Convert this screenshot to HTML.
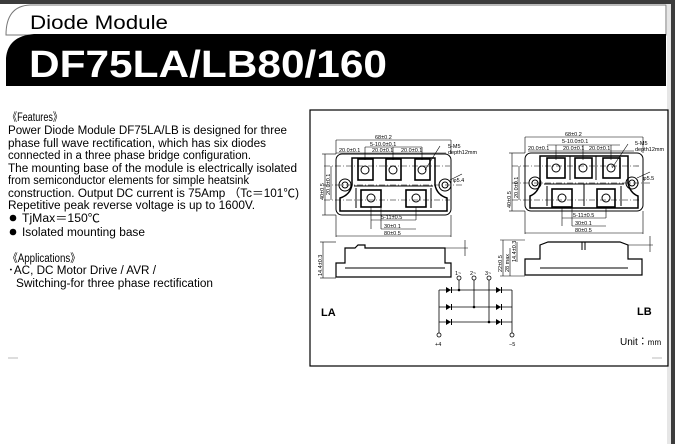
<!DOCTYPE html>
<html><head><meta charset="utf-8"><style>
html,body{margin:0;padding:0;background:#fff}
svg{display:block}
text{font-family:"Liberation Sans","Noto Sans CJK JP",sans-serif}
</style></head><body>
<svg width="675" height="444" viewBox="0 0 675 444" xmlns="http://www.w3.org/2000/svg">
<rect x="0" y="0" width="675" height="444" fill="#fff"/>
<rect x="0" y="0" width="675" height="4" fill="#3c3c3c"/>
<rect x="671" y="0" width="4" height="444" fill="#3c3c3c"/>
<rect x="667" y="4" width="4" height="440" fill="#e6e6e6"/>
<!-- header -->
<path d="M6,35 Q6,6 30,5 L666,5 L666,35 Z" fill="#fff" stroke="#777" stroke-width="1"/>
<path d="M6,86 L6,58 Q8,36 34,34 L666,34 L666,86 Z" fill="#000"/>
<text x="30" y="29" font-size="19" fill="#000" textLength="138" lengthAdjust="spacingAndGlyphs">Diode Module</text>
<text x="29" y="77" font-size="38" font-weight="bold" fill="#fff" textLength="358" lengthAdjust="spacingAndGlyphs">DF75LA/LB80/160</text>
<!-- body text -->
<g font-size="11.5" fill="#000">
<text x="8" y="121" textLength="54" lengthAdjust="spacingAndGlyphs">《Features》</text>
<text x="8" y="134" textLength="279" lengthAdjust="spacingAndGlyphs">Power Diode Module DF75LA/LB is designed for three</text>
<text x="8" y="147" textLength="258" lengthAdjust="spacingAndGlyphs">phase full wave rectification, which has six diodes</text>
<text x="8" y="159" textLength="243" lengthAdjust="spacingAndGlyphs">connected in a three phase bridge configuration.</text>
<text x="8" y="172" textLength="289" lengthAdjust="spacingAndGlyphs">The mounting base of the module is electrically isolated</text>
<text x="8" y="184" textLength="241" lengthAdjust="spacingAndGlyphs">from semiconductor elements for simple heatsink</text>
<text x="8" y="197" textLength="291" lengthAdjust="spacingAndGlyphs">construction. Output DC current is 75Amp （Tc＝101℃)</text>
<text x="8" y="209" textLength="247" lengthAdjust="spacingAndGlyphs">Repetitive peak reverse voltage is up to 1600V.</text>
<circle cx="13" cy="218" r="3.3"/>
<text x="22" y="222" textLength="78" lengthAdjust="spacingAndGlyphs">TjMax＝150℃</text>
<circle cx="13" cy="232" r="3.3"/>
<text x="22" y="236" textLength="123" lengthAdjust="spacingAndGlyphs">Isolated mounting base</text>
<text x="8" y="262" textLength="72" lengthAdjust="spacingAndGlyphs">《Applications》</text>
<text x="8" y="274" textLength="148" lengthAdjust="spacingAndGlyphs">･AC, DC Motor Drive / AVR /</text>
<text x="16" y="287" textLength="197" lengthAdjust="spacingAndGlyphs">Switching-for three phase rectification</text>
</g>
<line x1="8" y1="358" x2="18" y2="358" stroke="#bbb" stroke-width="1"/>
<!-- diagram box -->
<rect x="310" y="110" width="358" height="256" fill="none" stroke="#000" stroke-width="1.2"/>
<line x1="652" y1="358" x2="662" y2="358" stroke="#bbb" stroke-width="1"/>

<g fill="none" stroke="#000" stroke-width="1">
<!-- LA top view -->
<rect x="336" y="154" width="115" height="61" rx="6"/>
<path d="M352,158 L435,158 L435,185 Q437,195 447,198 L447,211 L340,211 L340,198 Q350,195 352,185 Z" stroke-width="1.5"/>
<path d="M354,186 L433,186 M356,188 L356,208 M431,188 L431,208"/>
<circle cx="345" cy="185" r="6"/><circle cx="345" cy="185" r="3"/>
<circle cx="445" cy="185" r="6"/><circle cx="445" cy="185" r="3"/>
<g stroke-width="1.6">
<rect x="358" y="159" width="15" height="21"/><rect x="386" y="159" width="15" height="21"/><rect x="415" y="159" width="15" height="21"/>
<rect x="361" y="190" width="20" height="17"/><rect x="406" y="190" width="20" height="17"/>
</g>
<circle cx="365" cy="170" r="4"/><circle cx="393" cy="170" r="4"/><circle cx="422" cy="170" r="4"/>
<circle cx="371" cy="198" r="4"/><circle cx="416" cy="198" r="4"/>
<g stroke-width="0.6" stroke-dasharray="6,2,1,2">
<line x1="324" y1="185" x2="462" y2="185"/><line x1="324" y1="166" x2="450" y2="166"/><line x1="324" y1="200" x2="450" y2="200"/>
</g>
<g stroke-width="0.6">
<line x1="336" y1="140" x2="451" y2="140"/><line x1="336" y1="140" x2="336" y2="154"/><line x1="451" y1="140" x2="451" y2="154"/>
<line x1="365" y1="147" x2="422" y2="147"/><line x1="365" y1="147" x2="365" y2="160"/><line x1="393" y1="147" x2="393" y2="160"/><line x1="422" y1="147" x2="422" y2="160"/>
<line x1="336" y1="153" x2="446" y2="153"/>
<line x1="371" y1="207" x2="371" y2="229"/><line x1="416" y1="207" x2="416" y2="220"/><line x1="381" y1="207" x2="381" y2="229"/>
<line x1="371" y1="220" x2="416" y2="220"/><line x1="381" y1="229" x2="416" y2="229"/>
<line x1="336" y1="236" x2="451" y2="236"/><line x1="336" y1="215" x2="336" y2="237"/><line x1="451" y1="215" x2="451" y2="237"/>
<line x1="325" y1="154" x2="325" y2="215"/><line x1="322" y1="154" x2="336" y2="154"/><line x1="322" y1="215" x2="336" y2="215"/>
<line x1="331" y1="166" x2="331" y2="200"/>
<line x1="425" y1="170" x2="440" y2="146"/><line x1="450" y1="180" x2="462" y2="174"/>
</g>
<!-- LA side view -->
<path d="M336,277 L336,263 L345,263 L345,248 L355,248 L358,245 L365,245 L365,248 L445,248 L445,263 L451,263 L451,277 Z" stroke-width="1.2"/>
<line x1="345" y1="268" x2="445" y2="268"/>
<line x1="323" y1="242" x2="323" y2="278" stroke-width="0.6"/><line x1="320" y1="242" x2="336" y2="242" stroke-width="0.6"/><line x1="320" y1="278" x2="336" y2="278" stroke-width="0.6"/>
<line x1="465" y1="240" x2="465" y2="256" stroke-width="0.6"/><line x1="445" y1="248" x2="468" y2="248" stroke-width="0.6"/>

<!-- LB top view -->
<rect x="525" y="153" width="118" height="58" rx="6"/>
<path d="M540,156 L628,156 L628,183 Q630,193 638,196 L638,208 L530,208 L530,196 Q538,193 540,183 Z" stroke-width="1.5"/>
<path d="M544,184 L624,184 M584,184 L584,206 M547,186 L547,206 M621,186 L621,206 M570,156 L570,180 M596,156 L596,180"/>
<circle cx="535" cy="183" r="6"/><circle cx="535" cy="183" r="3"/>
<circle cx="632" cy="183" r="6"/><circle cx="632" cy="183" r="3"/>
<g stroke-width="1.6">
<rect x="547" y="158" width="18" height="20"/><rect x="575" y="158" width="17" height="20"/><rect x="603" y="158" width="17" height="20"/>
<rect x="552" y="189" width="20" height="18"/><rect x="597" y="189" width="18" height="18"/>
</g>
<circle cx="556" cy="168" r="4"/><circle cx="583" cy="168" r="4"/><circle cx="611" cy="168" r="4"/>
<circle cx="562" cy="198" r="4"/><circle cx="606" cy="198" r="4"/>
<g stroke-width="0.6" stroke-dasharray="6,2,1,2">
<line x1="512" y1="183" x2="650" y2="183"/><line x1="512" y1="166" x2="640" y2="166"/><line x1="512" y1="200" x2="640" y2="200"/>
</g>
<g stroke-width="0.6">
<line x1="525" y1="137" x2="643" y2="137"/><line x1="525" y1="137" x2="525" y2="153"/><line x1="643" y1="137" x2="643" y2="153"/>
<line x1="547" y1="145" x2="620" y2="145"/><line x1="556" y1="145" x2="556" y2="160"/><line x1="583" y1="145" x2="583" y2="160"/><line x1="611" y1="145" x2="611" y2="160"/>
<line x1="528" y1="151" x2="634" y2="151"/>
<line x1="562" y1="207" x2="562" y2="226"/><line x1="572" y1="207" x2="572" y2="226"/><line x1="606" y1="207" x2="606" y2="218"/>
<line x1="562" y1="218" x2="606" y2="218"/><line x1="572" y1="226" x2="606" y2="226"/>
<line x1="525" y1="233" x2="643" y2="233"/><line x1="525" y1="211" x2="525" y2="234"/><line x1="643" y1="211" x2="643" y2="234"/>
<line x1="512" y1="153" x2="512" y2="211"/><line x1="509" y1="153" x2="525" y2="153"/><line x1="509" y1="211" x2="525" y2="211"/>
<line x1="519" y1="166" x2="519" y2="200"/>
<line x1="612" y1="168" x2="628" y2="144"/><line x1="637" y1="178" x2="650" y2="172"/>
</g>
<!-- LB side view -->
<path d="M525,275 L525,259 L540,259 L540,245 L548,242 L620,242 L628,245 L628,259 L642,259 L642,275 Z" stroke-width="1.2"/>
<line x1="540" y1="268" x2="628" y2="268"/>
<line x1="582" y1="242" x2="582" y2="250"/><line x1="585" y1="242" x2="585" y2="250"/>
<g stroke-width="0.6">
<line x1="503" y1="240" x2="503" y2="276"/><line x1="510" y1="248" x2="510" y2="276"/><line x1="517" y1="242" x2="517" y2="262"/>
<line x1="500" y1="240" x2="525" y2="240"/><line x1="500" y1="276" x2="525" y2="276"/>
<line x1="650" y1="236" x2="650" y2="252"/><line x1="628" y1="245" x2="653" y2="245"/>
</g>

<!-- circuit -->
<g stroke-width="0.8">
<line x1="439" y1="290" x2="439" y2="333"/><line x1="512" y1="290" x2="512" y2="333"/>
<line x1="439" y1="290" x2="512" y2="290"/><line x1="439" y1="307" x2="512" y2="307"/><line x1="439" y1="322" x2="512" y2="322"/>
<line x1="459" y1="280" x2="459" y2="290"/><line x1="474" y1="280" x2="474" y2="307"/><line x1="489" y1="280" x2="489" y2="322"/>
<circle cx="459" cy="278" r="2"/><circle cx="474" cy="278" r="2"/><circle cx="489" cy="278" r="2"/>
<circle cx="439" cy="335" r="2"/><circle cx="512" cy="335" r="2"/>
</g>
</g>
<g fill="#000">
<path d="M446,287 L446,293 L451,290 Z M496,287 L496,293 L501,290 Z"/>
<path d="M446,304 L446,310 L451,307 Z M496,304 L496,310 L501,307 Z"/>
<path d="M446,319 L446,325 L451,322 Z M496,319 L496,325 L501,322 Z"/>
<circle cx="459" cy="290" r="1.3"/><circle cx="474" cy="307" r="1.3"/><circle cx="489" cy="322" r="1.3"/>
</g>
<g stroke="#000" stroke-width="1">
<line x1="451.5" y1="287" x2="451.5" y2="293"/><line x1="501.5" y1="287" x2="501.5" y2="293"/>
<line x1="451.5" y1="304" x2="451.5" y2="310"/><line x1="501.5" y1="304" x2="501.5" y2="310"/>
<line x1="451.5" y1="319" x2="451.5" y2="325"/><line x1="501.5" y1="319" x2="501.5" y2="325"/>
</g>
<!-- labels -->
<g font-size="5.5" fill="#000">
<text x="375" y="139">68±0.2</text><text x="370" y="146">5-10.0±0.1</text>
<text x="339" y="152">20.0±0.1</text><text x="372" y="152">20.0±0.1</text><text x="401" y="152">20.0±0.1</text>
<text x="448" y="148">5-M5</text><text x="448" y="154">depth12mm</text>
<text x="453" y="182">φ5.4</text>
<text x="381" y="219">5-11±0.5</text><text x="384" y="228">30±0.1</text><text x="384" y="235">80±0.5</text>
<text x="565" y="136">68±0.2</text><text x="562" y="143">5-10.0±0.1</text>
<text x="528" y="150">20.0±0.1</text><text x="563" y="150">20.0±0.1</text><text x="589" y="150">20.0±0.1</text>
<text x="635" y="145">5-M5</text><text x="635" y="151">depth12mm</text>
<text x="643" y="180">φ5.5</text>
<text x="573" y="217">5-11±0.5</text><text x="575" y="225">30±0.1</text><text x="575" y="232">80±0.5</text>
<text x="455" y="275">1~</text><text x="470" y="275">2~</text><text x="485" y="275">3~</text>
<text x="435" y="346">+4</text><text x="509" y="346">−5</text>
</g>
<g font-size="5.5" fill="#000">
<text transform="translate(324,200) rotate(-90)">40±0.5</text>
<text transform="translate(330,195) rotate(-90)">20.0±0.1</text>
<text transform="translate(322,276) rotate(-90)">14.4±0.3</text>
<text transform="translate(511,208) rotate(-90)">40±0.5</text>
<text transform="translate(518,198) rotate(-90)">20.0±0.1</text>
<text transform="translate(502,272) rotate(-90)">22±0.5</text>
<text transform="translate(509,272) rotate(-90)">28 max</text>
<text transform="translate(516,262) rotate(-90)">14.4±0.3</text>
</g>
<text x="321" y="316" font-size="11" font-weight="bold">LA</text>
<text x="637" y="315" font-size="11" font-weight="bold">LB</text>
<text x="620" y="345" font-size="10">Unit：<tspan font-size="8">mm</tspan></text>
</svg>
</body></html>
